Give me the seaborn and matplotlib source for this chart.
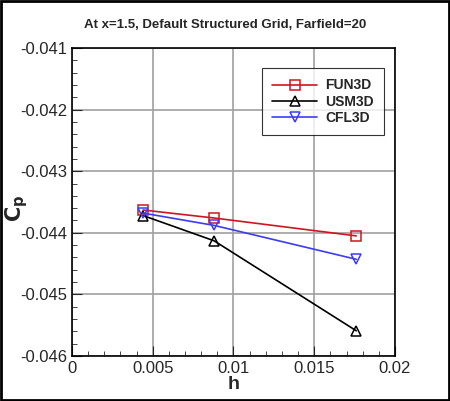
import numpy as np
import pandas as pd
import matplotlib
matplotlib.use("Agg")
import matplotlib.pyplot as plt
from matplotlib.ticker import MultipleLocator, FuncFormatter
import seaborn as sns

# ── DATA ─────────────────────────────────────────────────────
h_vals = [0.0044, 0.0088, 0.0176]
fun3d = [-0.04363, -0.04376, -0.04405]
usm3d = [-0.04372, -0.04413, -0.04559]
cfl3d = [-0.04368, -0.04388, -0.04443]
codes = ["FUN3D", "USM3D", "CFL3D"]
colors = ["#D0151E", "#000000", "#3C3CF5"]
markers = ["s", "^", "v"]

df = pd.DataFrame({
    "h": h_vals * 3,
    "Cp": fun3d + usm3d + cfl3d,
    "code": [c for c in codes for _ in h_vals],
})

sns.set_style("ticks")
plt.rcParams["font.family"] = ["Liberation Sans", "DejaVu Sans"]

fig = plt.figure(figsize=(4.5, 4.01), dpi=100)
ax = fig.add_axes([72 / 450, 1 - 356 / 401, (395 - 72) / 450, (356 - 48) / 401])

for code, col, mk in zip(codes, colors, markers):
    sub = df[df["code"] == code]
    sns.lineplot(data=sub, x="h", y="Cp", ax=ax, color=col, marker=mk,
                 markersize=6.5, markerfacecolor="none", markeredgecolor=col,
                 markeredgewidth=1.1, linewidth=1.2, label=code)

ax.set_xlim(0, 0.02)
ax.set_ylim(-0.046, -0.041)
ax.xaxis.set_major_locator(MultipleLocator(0.005))
ax.xaxis.set_minor_locator(MultipleLocator(0.001))
ax.yaxis.set_major_locator(MultipleLocator(0.001))
ax.yaxis.set_minor_locator(MultipleLocator(0.0002))
ax.xaxis.set_major_formatter(FuncFormatter(lambda v, p: "0" if abs(v) < 1e-12 else f"{v:g}"))
ax.yaxis.set_major_formatter(FuncFormatter(lambda v, p: f"{v:.3f}"))
ax.tick_params(which="both", direction="in", top=False, right=False, labelsize=12)
ax.tick_params(which="major", length=7)
ax.tick_params(which="minor", length=3.5)
ax.grid(True, which="major", color="#A0A0A0", linewidth=1.2)
for s in ax.spines.values():
    s.set_linewidth(1.2)
    s.set_color("black")

ax.set_xlabel("h", fontsize=14, fontweight="bold", labelpad=0)
ax.set_ylabel(r"$\mathbf{C_p}$", fontsize=15)
ax.yaxis.set_label_coords((30 - 72) / 323, 0.48)
fig.text(0.5, 1 - 25 / 401, "At x=1.5, Default Structured Grid, Farfield=20",
         ha="center", va="center", fontsize=9.5, fontweight="bold")

leg = ax.legend(loc="upper left", bbox_to_anchor=((262 - 72) / 323, 1 - (68 - 48) / 308),
                borderaxespad=0, frameon=True, fancybox=False, edgecolor="black",
                fontsize=10, handlelength=3.2, borderpad=0.75, labelspacing=0.15,
                handletextpad=0.6)
leg.get_frame().set_linewidth(0.8)
for t in leg.get_texts():
    t.set_fontweight("bold")

fig.patches.append(plt.Rectangle((0.003, 0.003), 0.994, 0.994, transform=fig.transFigure,
                                 fill=False, edgecolor="black", linewidth=2))

fig.savefig("out.png", dpi=100)
